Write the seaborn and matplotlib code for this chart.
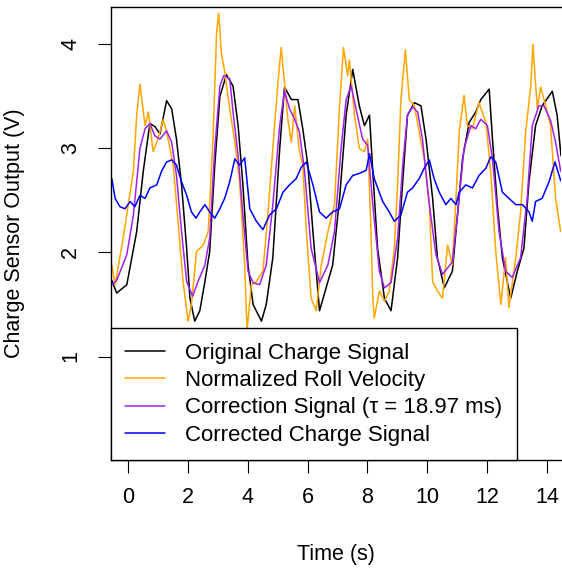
import matplotlib
matplotlib.use("Agg")
import matplotlib.pyplot as plt
import seaborn as sns
import pandas as pd

# ---------------- data ----------------
t_orig = [-0.54, -0.38, -0.04, 0.29, 0.51, 0.73, 0.90, 1.07, 1.29, 1.46, 1.62, 1.79, 1.96, 2.07,
          2.23, 2.40, 2.57, 2.73, 2.90, 3.07, 3.29, 3.51, 3.68, 3.84, 4.01, 4.18, 4.46, 4.62,
          4.84, 5.07, 5.23, 5.46, 5.68, 5.84, 6.01, 6.18, 6.40, 6.62, 6.84, 7.07, 7.29, 7.51,
          7.73, 7.90, 8.07, 8.18, 8.34, 8.57, 8.79, 9.01, 9.18, 9.34, 9.57, 9.79, 9.96, 10.18,
          10.34, 10.57, 10.84, 11.01, 11.18, 11.40, 11.62, 11.79, 12.07, 12.18, 12.34, 12.51,
          12.79, 13.01, 13.23, 13.40, 13.62, 13.84, 14.18, 14.34, 14.47]
v_orig = [1.73, 1.61, 1.69, 2.20, 2.78, 3.24, 3.21, 3.14, 3.46, 3.38, 3.09, 2.65, 2.04, 1.56,
          1.34, 1.44, 1.72, 2.01, 2.84, 3.50, 3.71, 3.60, 3.22, 2.65, 1.88, 1.50, 1.34, 1.50,
          1.95, 3.00, 3.59, 3.47, 3.47, 3.19, 2.84, 2.20, 1.44, 1.66, 1.88, 2.52, 3.32, 3.76,
          3.41, 3.22, 3.32, 2.78, 2.04, 1.56, 1.44, 1.95, 2.68, 3.32, 3.44, 3.41, 3.09, 2.52,
          1.95, 1.66, 1.82, 2.36, 2.90, 3.25, 3.35, 3.47, 3.57, 3.09, 2.46, 1.95, 1.56, 1.82,
          2.04, 2.68, 3.22, 3.41, 3.55, 3.32, 2.93]

t_roll = [-0.54, -0.43, -0.16, 0.18, 0.29, 0.40, 0.57, 0.68, 0.84, 1.00, 1.18, 1.34, 1.51, 1.68,
          1.84, 2.01, 2.12, 2.29, 2.51, 2.68, 2.84, 2.96, 3.03, 3.12, 3.23, 3.40, 3.57, 3.73,
          3.90, 3.98, 4.12, 4.29, 4.51, 4.68, 4.84, 5.01, 5.12, 5.23, 5.34, 5.46, 5.57, 5.73,
          5.84, 5.96, 6.12, 6.29, 6.46, 6.68, 6.90, 7.07, 7.20, 7.34, 7.40, 7.57, 7.73, 7.90,
          8.01, 8.12, 8.18, 8.23, 8.40, 8.57, 8.73, 8.90, 9.01, 9.12, 9.27, 9.40, 9.57, 9.73,
          9.90, 10.07, 10.18, 10.34, 10.51, 10.68, 10.84, 10.96, 11.07, 11.23, 11.34, 11.51,
          11.73, 11.96, 12.12, 12.29, 12.46, 12.62, 12.73, 12.96, 13.12, 13.29, 13.46, 13.53,
          13.68, 13.79, 13.96, 14.12, 14.29, 14.46]
v_roll = [1.88, 1.69, 2.14, 2.78, 3.32, 3.62, 3.22, 3.35, 2.97, 3.09, 3.28, 3.09, 2.84, 2.27,
          1.72, 1.34, 1.50, 2.01, 2.07, 2.20, 3.09, 4.11, 4.30, 3.92, 3.74, 3.38, 3.06, 2.68,
          1.88, 1.25, 1.69, 1.72, 1.82, 2.39, 3.00, 3.63, 3.97, 3.63, 3.28, 3.06, 3.41, 2.97,
          2.84, 2.20, 1.56, 1.44, 1.88, 2.20, 2.46, 3.41, 3.97, 3.70, 3.85, 3.32, 3.00, 2.97,
          3.09, 2.20, 1.56, 1.37, 1.63, 1.53, 1.63, 2.04, 2.65, 3.47, 3.95, 3.47, 3.41, 3.16,
          2.90, 2.46, 1.72, 1.63, 1.56, 2.07, 1.88, 2.52, 3.16, 3.51, 3.22, 3.19, 3.44, 3.25,
          2.78, 2.01, 1.50, 1.95, 1.47, 1.95, 2.39, 3.16, 3.60, 4.00, 3.38, 3.59, 3.41, 3.22,
          2.52, 2.20]

t_corr = [-0.54, -0.38, -0.04, 0.18, 0.40, 0.57, 0.73, 0.90, 1.07, 1.29, 1.46, 1.62, 1.79, 1.96,
          2.16, 2.34, 2.57, 2.73, 2.90, 3.07, 3.20, 3.40, 3.51, 3.68, 3.84, 4.01, 4.18, 4.40,
          4.62, 4.84, 5.07, 5.23, 5.40, 5.57, 5.73, 5.90, 6.12, 6.40, 6.68, 6.90, 7.12, 7.29,
          7.46, 7.62, 7.84, 8.01, 8.18, 8.40, 8.57, 8.79, 9.01, 9.18, 9.34, 9.51, 9.68, 9.84,
          10.07, 10.29, 10.51, 10.84, 11.01, 11.23, 11.46, 11.62, 11.79, 12.01, 12.18, 12.40,
          12.62, 12.84, 13.12, 13.34, 13.51, 13.73, 13.90, 14.12, 14.29, 14.46]
v_corr = [1.69, 1.73, 1.98, 2.36, 3.00, 3.19, 3.24, 3.12, 3.09, 3.17, 3.06, 2.74, 2.20, 1.72,
          1.58, 1.72, 1.88, 2.14, 3.00, 3.60, 3.70, 3.67, 3.35, 2.93, 2.36, 1.82, 1.71, 1.69,
          1.88, 2.46, 3.22, 3.55, 3.38, 3.28, 3.16, 2.78, 2.04, 1.71, 1.88, 2.20, 3.00, 3.47,
          3.60, 3.38, 3.09, 3.03, 2.46, 1.82, 1.66, 1.71, 2.14, 2.84, 3.32, 3.40, 3.35, 3.09,
          2.46, 1.98, 1.79, 1.91, 2.36, 3.00, 3.22, 3.19, 3.28, 3.22, 2.90, 2.20, 1.82, 1.76,
          1.95, 2.52, 3.22, 3.41, 3.41, 3.27, 3.06, 2.78]

t_fix = [-0.54, -0.43, -0.27, -0.10, 0.07, 0.23, 0.40, 0.57, 0.73, 0.96, 1.12, 1.29, 1.46, 1.62,
         1.79, 1.96, 2.12, 2.27, 2.40, 2.57, 2.73, 2.90, 3.07, 3.23, 3.40, 3.57, 3.73, 3.90,
         4.07, 4.29, 4.51, 4.73, 4.96, 5.18, 5.40, 5.62, 5.79, 5.96, 6.18, 6.40, 6.62, 6.84,
         7.07, 7.29, 7.51, 7.73, 7.96, 8.07, 8.23, 8.51, 8.73, 8.90, 9.12, 9.34, 9.51, 9.73,
         9.90, 10.07, 10.23, 10.40, 10.62, 10.79, 10.96, 11.07, 11.29, 11.51, 11.73, 11.96,
         12.12, 12.29, 12.51, 12.73, 12.96, 13.18, 13.40, 13.51, 13.62, 13.84, 14.07, 14.27, 14.46]
v_fix = [2.71, 2.52, 2.44, 2.42, 2.49, 2.44, 2.55, 2.52, 2.62, 2.65, 2.78, 2.87, 2.89, 2.84,
         2.68, 2.55, 2.39, 2.33, 2.39, 2.46, 2.39, 2.33, 2.42, 2.52, 2.68, 2.90, 2.84, 2.91,
         2.42, 2.30, 2.22, 2.36, 2.42, 2.58, 2.65, 2.71, 2.82, 2.87, 2.65, 2.39, 2.33, 2.39,
         2.42, 2.65, 2.74, 2.76, 2.79, 2.95, 2.71, 2.49, 2.39, 2.30, 2.36, 2.58, 2.62, 2.71,
         2.81, 2.89, 2.71, 2.58, 2.46, 2.52, 2.46, 2.58, 2.65, 2.62, 2.74, 2.81, 2.92, 2.87,
         2.58, 2.52, 2.46, 2.46, 2.39, 2.30, 2.49, 2.52, 2.68, 2.87, 2.69]

labels = ["Original Charge Signal", "Normalized Roll Velocity",
          "Correction Signal (\u03c4 = 18.97 ms)", "Corrected Charge Signal"]
colors = ["black", "#FFA500", "#A020F0", "#0000FF"]
x_ticks = [0, 2, 4, 6, 8, 10, 12, 14]
y_ticks = [1, 2, 3, 4]

# ---------------- plotting ----------------
sns.set_style("ticks")
plt.rcParams["font.family"] = ["Liberation Sans", "DejaVu Sans"]
plt.rcParams["text.color"] = "black"
plt.rcParams["axes.labelcolor"] = "black"
plt.rcParams["xtick.color"] = "black"
plt.rcParams["ytick.color"] = "black"

W, H = 562, 569
fig = plt.figure(figsize=(W / 100, H / 100), dpi=100)
ax_l, ax_r, ax_t, ax_b = 111, 561, 7, 460
ax = fig.add_axes([ax_l / W, 1 - ax_b / H, (ax_r - ax_l) / W, (ax_b - ax_t) / H])

series = [(t_orig, v_orig), (t_roll, v_roll), (t_corr, v_corr), (t_fix, v_fix)]
for (tx, vy), lab, col in zip(series, labels, colors):
    df = pd.DataFrame({"t": tx, "v": vy})
    sns.lineplot(data=df, x="t", y="v", ax=ax, color=col, lw=1.1, label=lab, sort=False)

ax.set_xlim(-0.568, 14.47)
ax.set_ylim(0.005, 4.36)
ax.set_xticks(x_ticks)
ax.set_yticks(y_ticks)
ax.set_xticklabels([str(v) for v in x_ticks])
ax.set_yticklabels([str(v) for v in y_ticks], rotation=90, va="center")
ax.tick_params(axis="both", direction="out", length=9.4, width=0.8, labelsize=15.5,
               color="black", labelcolor="black")
ax.tick_params(axis="x", pad=10)
ax.tick_params(axis="y", pad=12)
for s in ["left", "top", "bottom"]:
    ax.spines[s].set_color("black")
    ax.spines[s].set_linewidth(1.0)
ax.spines["right"].set_visible(False)

ax.set_xlabel("Time (s)", fontsize=15.5, color="black")
ax.set_ylabel("Charge Sensor Output (V)", fontsize=15.5, color="black")
ax.xaxis.set_label_coords(0.5, -0.185)
ax.yaxis.set_label_coords(-0.19, 0.5)

leg = ax.legend(loc="lower left", bbox_to_anchor=(0, 0), borderaxespad=0, fontsize=16,
                frameon=True, fancybox=False, handlelength=1.8, handletextpad=0.9,
                labelspacing=0.28, borderpad=0.65)
leg.get_frame().set_edgecolor("black")
leg.get_frame().set_linewidth(1.0)
leg.get_frame().set_alpha(1)
for h in leg.get_lines():
    h.set_linewidth(1.1)
for txt in leg.get_texts():
    txt.set_color("black")

fig.savefig("out.png", dpi=100)
